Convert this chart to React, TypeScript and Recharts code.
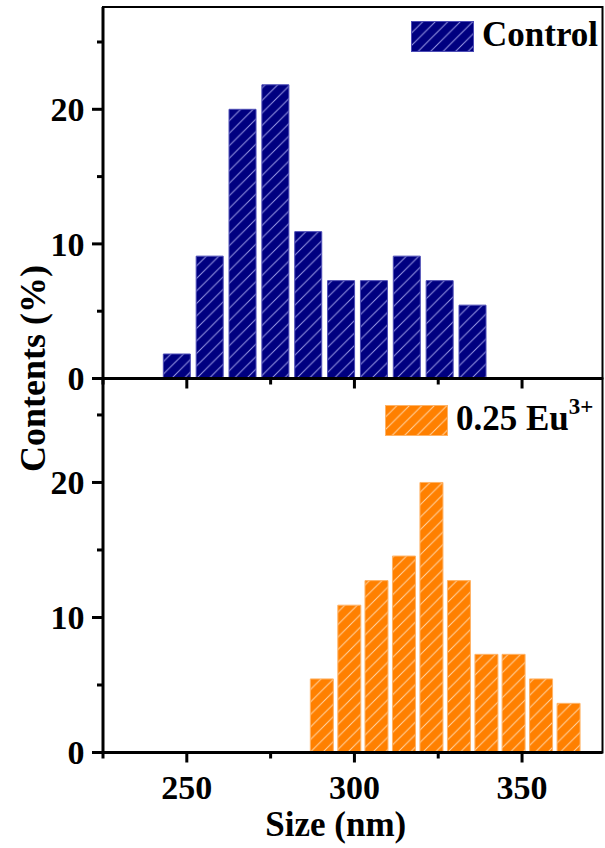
import React from 'react';
import { BarChart, Bar, XAxis, YAxis, ReferenceArea, Legend } from 'recharts';

// ---- data ----
const X_TICKS = [225, 250, 275, 300, 325, 350];
const X_MAJOR = [250, 300, 350];
const X_DOMAIN: [number, number] = [225, 374];
const Y_TICKS = [0, 5, 10, 15, 20, 25];
const Y_MAJOR = [0, 10, 20];
const TOP_Y_MAX = 27.6;
const BOTTOM_Y_MAX = 27.7;

const CONTROL_SIZE = [247.0, 256.8, 266.6, 276.4, 286.2, 296.0, 305.8, 315.6, 325.4, 335.2];
const CONTROL_PCT = [1.82, 9.09, 20.0, 21.82, 10.91, 7.27, 7.27, 9.09, 7.27, 5.45];
const EU_SIZE = [290.3, 298.5, 306.6, 314.8, 323.0, 331.2, 339.4, 347.5, 355.7, 363.9];
const EU_PCT = [5.45, 10.91, 12.73, 14.55, 20.0, 12.73, 7.27, 7.27, 5.45, 3.64];

const CONTROL_NAME = 'Control';
const EU_NAME = '0.25 Eu';
const EU_SUP = '3+';
const X_TITLE = 'Size (nm)';
const Y_TITLE = 'Contents (%)';

const controlData = CONTROL_SIZE.map((s, i) => ({ size: s, v: CONTROL_PCT[i] }));
const euData = EU_SIZE.map((s, i) => ({ size: s, v: EU_PCT[i] }));

const FONT = "'Liberation Serif', 'Times New Roman', serif";
const NAVY = '#000080';
const ORANGE = '#FF8000';

const XTick = (props: any) => {
  const { x, y, payload, showLabel } = props;
  const v = payload.value;
  const major = X_MAJOR.includes(v);
  return (
    <g>
      <line x1={x} x2={x} y1={y} y2={y + (major ? 10 : 6)} stroke="#000" strokeWidth={3} />
      {showLabel && major && (
        <text x={x} y={y + 46.5} textAnchor="middle" fontFamily={FONT} fontWeight="bold" fontSize={34} fill="#000">
          {v}
        </text>
      )}
    </g>
  );
};

const YTick = (props: any) => {
  const { x, y, payload } = props;
  const v = payload.value;
  const major = Y_MAJOR.includes(v);
  return (
    <g>
      <line x1={x - (major ? 11 : 6)} x2={x} y1={y} y2={y} stroke="#000" strokeWidth={3} />
      {major && (
        <text x={x - 18.5} y={y} dy="0.35em" textAnchor="end" fontFamily={FONT} fontWeight="bold" fontSize={34} fill="#000">
          {v}
        </text>
      )}
    </g>
  );
};

const LegendBox = ({ fill, stroke, w, children }: any) => (
  <svg width={w} height={40} style={{ display: 'block', overflow: 'visible' }}>
    <rect x={0.5} y={0.5} width={62} height={30} fill={fill} stroke={stroke} strokeWidth={1} />
    <text x={71} y={24.8} fontFamily={FONT} fontWeight="bold" fontSize={35} fill="#000">
      {children}
    </text>
  </svg>
);

const HatchDef = ({ id, bg, line }: any) => (
  <pattern id={id} patternUnits="userSpaceOnUse" width={12.5} height={12.5}>
    <rect width={12.5} height={12.5} fill={bg} />
    <path d="M-3,3 L3,-3 M0,12.5 L12.5,0 M9.5,15.5 L15.5,9.5" stroke={line} strokeWidth={1} />
  </pattern>
);

export default function App() {
  const W = 605;
  const H = 848;
  return (
    <div style={{ position: 'absolute', left: 0, top: 0, width: W, height: H, background: '#fff' }}>
      {/* top panel */}
      <div style={{ position: 'absolute', left: 0, top: 0 }}>
        <BarChart
          width={W}
          height={H}
          data={controlData}
          margin={{ top: 7, right: 2.5, left: 13, bottom: H - 378.5 - 20 }}
        >
          <defs>
            <HatchDef id="hatchNavy" bg={NAVY} line="#9a9ae6" />
          </defs>
          <Bar dataKey="v" name={CONTROL_NAME} barSize={27} fill="url(#hatchNavy)" stroke="#4b4bb5" strokeWidth={1} isAnimationActive={false} />
          <ReferenceArea x1={X_DOMAIN[0]} x2={X_DOMAIN[1]} y1={0} y2={TOP_Y_MAX} fill="none" stroke="#000" strokeWidth={2} ifOverflow="visible" />
          <XAxis
            type="number"
            dataKey="size"
            domain={X_DOMAIN}
            allowDataOverflow
            ticks={X_TICKS}
            interval={0}
            height={20}
            tickSize={0}
            tickMargin={0}
            tickLine={false}
            axisLine={{ stroke: '#000', strokeWidth: 3 }}
            tick={(p: any) => <XTick {...p} showLabel={false} />}
          />
          <YAxis
            type="number"
            domain={[0, TOP_Y_MAX]}
            allowDataOverflow
            ticks={Y_TICKS}
            interval={0}
            width={90}
            tickSize={0}
            tickMargin={0}
            tickLine={false}
            axisLine={{ stroke: '#000', strokeWidth: 3 }}
            tick={(p: any) => <YTick {...p} />}
            label={() => (
              <text
                x={44.5}
                y={368.5}
                transform="rotate(-90 44.5 368.5)"
                textAnchor="middle"
                fontFamily={FONT}
                fontWeight="bold"
                fontSize={36}
                fill="#000"
              >
                {Y_TITLE}
              </text>
            )}
          />
          <Legend
            layout="horizontal"
            verticalAlign="middle"
            align="center"
            wrapperStyle={{ position: 'absolute', left: 411, top: 20.5, width: 190, height: 40 }}
            content={() => (
              <LegendBox fill="url(#hatchNavy)" stroke="#4b4bb5" w={190}>
                {CONTROL_NAME}
              </LegendBox>
            )}
          />
        </BarChart>
      </div>

      {/* bottom panel */}
      <div style={{ position: 'absolute', left: 0, top: 0 }}>
        <BarChart
          width={W}
          height={H}
          data={euData}
          margin={{ top: 378.5, right: 2.5, left: 13, bottom: H - 752.5 - 90 }}
        >
          <defs>
            <HatchDef id="hatchOrange" bg={ORANGE} line="#ffd6a8" />
          </defs>
          <Bar dataKey="v" name={EU_NAME} barSize={23} fill="url(#hatchOrange)" stroke="#ffb366" strokeWidth={1} isAnimationActive={false} />
          <ReferenceArea x1={X_DOMAIN[0]} x2={X_DOMAIN[1]} y1={0} y2={BOTTOM_Y_MAX} fill="none" stroke="#000" strokeWidth={2} ifOverflow="visible" />
          <XAxis
            type="number"
            dataKey="size"
            domain={X_DOMAIN}
            allowDataOverflow
            ticks={X_TICKS}
            interval={0}
            height={90}
            tickSize={0}
            tickMargin={0}
            tickLine={false}
            axisLine={{ stroke: '#000', strokeWidth: 3 }}
            tick={(p: any) => <XTick {...p} showLabel />}
            label={(p: any) => {
              const vb = p.viewBox || {};
              const cx = (vb.x ?? 103) + (vb.width ?? 500) / 2 - 17;
              return (
                <text x={cx} y={836} textAnchor="middle" fontFamily={FONT} fontWeight="bold" fontSize={35} fill="#000">
                  {X_TITLE}
                </text>
              );
            }}
          />
          <YAxis
            type="number"
            domain={[0, BOTTOM_Y_MAX]}
            allowDataOverflow
            ticks={Y_TICKS}
            interval={0}
            width={90}
            tickSize={0}
            tickMargin={0}
            tickLine={false}
            axisLine={{ stroke: '#000', strokeWidth: 3 }}
            tick={(p: any) => <YTick {...p} />}
          />
          <Legend
            layout="horizontal"
            verticalAlign="middle"
            align="center"
            wrapperStyle={{ position: 'absolute', left: 385, top: 405, width: 216, height: 40 }}
            content={() => (
              <LegendBox fill="url(#hatchOrange)" stroke="#ffb366" w={216}>
                {EU_NAME}
                <tspan fontSize={23} dy={-16}>{EU_SUP}</tspan>
              </LegendBox>
            )}
          />
        </BarChart>
      </div>
    </div>
  );
}
